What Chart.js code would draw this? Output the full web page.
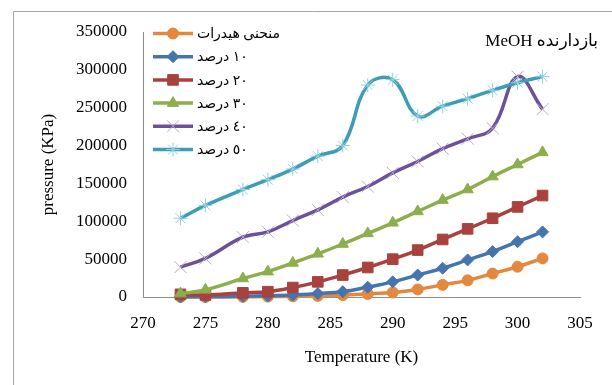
<!DOCTYPE html>
<html><head><meta charset="utf-8">
<script src="https://cdn.jsdelivr.net/npm/chart.js@4.4.0/dist/chart.umd.min.js"></script>
<style>html,body{margin:0;padding:0;background:#fff;}#wrap{width:612px;height:385px;}</style>
</head><body><div id="wrap"><canvas id="c" width="612" height="385"></canvas></div>
<script>
const temperatures = [273, 275, 278, 280, 282, 284, 286, 288, 290, 292, 294, 296, 298, 300, 302];
const hydrateCurve = [0, 0, 200, 500, 900, 1400, 2500, 4000, 6000, 10000, 16000, 22000, 31000, 40000, 51000];
const inhibitor10 = [300, 600, 1000, 1500, 2500, 4500, 7000, 13000, 20000, 29000, 38000, 49000, 60000, 73000, 86000];
const inhibitor20 = [3500, 2600, 5500, 7000, 12500, 20000, 29000, 39000, 50000, 62000, 76000, 90000, 104000, 119000, 134000];
const inhibitor30 = [4500, 9500, 24500, 33500, 45000, 57000, 70000, 84000, 98000, 113000, 128000, 142000, 159000, 175000, 191000];
const inhibitor40 = [39500, 51000, 79000, 86000, 101000, 115000, 132000, 146000, 164000, 179000, 196000, 209000, 223000, 291000, 248000];
const inhibitor50 = [104000, 121000, 142000, 155000, 169000, 186000, 200000, 280000, 287000, 239000, 252000, 262000, 273000, 283000, 291000];
const seriesLabels = ['منحنی هیدرات', '١٠ درصد', '٢٠ درصد', '٣٠ درصد', '٤٠ درصد', '٥٠ درصد'];
const xTickValues = [270, 275, 280, 285, 290, 295, 300, 305];
const yTickValues = [0, 50000, 100000, 150000, 200000, 250000, 300000, 350000];
const chartTitle = 'بازدارنده MeOH';
const xAxisTitle = 'Temperature (K)';
const yAxisTitle = 'pressure (KPa)';

const seriesValues = [hydrateCurve, inhibitor10, inhibitor20, inhibitor30, inhibitor40, inhibitor50];
const styles = [
  {line:'#E3883C', mark:'#E3883C', style:'circle', r:5.5, bw:1},
  {line:'#4575AE', mark:'#4575AE', style:'rectRot', r:6, bw:1},
  {line:'#A8423F', mark:'#A8423F', style:'rect', r:7.5, bw:1},
  {line:'#8DAE4C', mark:'#8DAE4C', style:'triangle', r:6.5, bw:1},
  {line:'#6B5298', mark:'#B7A8D2', style:'crossRot', r:8.5, bw:1},
  {line:'#3D9DB5', mark:'#92D0E2', style:'star', r:7, bw:1}
];

const datasets = seriesValues.map((vals, i) => ({
  label: seriesLabels[i],
  data: temperatures.map((t, j) => ({x: t, y: vals[j]})),
  borderColor: styles[i].line,
  backgroundColor: styles[i].mark,
  pointStyle: styles[i].style,
  pointRadius: styles[i].r,
  pointBorderColor: styles[i].mark,
  pointBackgroundColor: styles[i].mark,
  pointBorderWidth: styles[i].bw,
  borderWidth: 3.5,
  tension: 0.4,
  clip: false,
  order: 5 - i
}));

const decor = {
  id: 'decor',
  beforeDraw(chart) {
    const ctx = chart.ctx;
    ctx.save();
    ctx.strokeStyle = '#A6A6A6';
    ctx.lineWidth = 1;
    ctx.beginPath();
    ctx.moveTo(13.5, 400); ctx.lineTo(13.5, 11.5); ctx.lineTo(620, 11.5);
    ctx.stroke();
    ctx.restore();
  },
  afterDraw(chart) {
    const ctx = chart.ctx;
    ctx.save();
    // title
    ctx.direction = 'rtl';
    ctx.textAlign = 'right';
    ctx.textBaseline = 'middle';
    ctx.fillStyle = '#000';
    ctx.font = '17px "Liberation Serif", "DejaVu Sans", serif';
    ctx.fillText(chartTitle, 598, 42);
    // legend
    const y0 = 33.5, dy = 23.2;
    chart.data.datasets.forEach((ds, i) => {
      const y = y0 + i * dy;
      ctx.strokeStyle = ds.borderColor;
      ctx.lineWidth = 3.5;
      ctx.beginPath();
      ctx.moveTo(153, y); ctx.lineTo(193, y);
      ctx.stroke();
      ctx.fillStyle = ds.pointBackgroundColor;
      ctx.strokeStyle = ds.pointBorderColor;
      ctx.lineWidth = ds.pointBorderWidth;
      Chart.helpers.drawPoint(ctx, {pointStyle: ds.pointStyle, radius: ds.pointRadius, rotation: 0, borderWidth: ds.pointBorderWidth}, 173, y);
      ctx.fillStyle = '#000';
      ctx.textAlign = 'left';
      ctx.direction = 'rtl';
      ctx.font = '14px "Liberation Serif", "DejaVu Sans", serif';
      ctx.fillText(ds.label, 197, y + 1);
    });
    ctx.restore();
  }
};

new Chart(document.getElementById('c'), {
  type: 'line',
  data: {datasets},
  plugins: [decor],
  options: {
    responsive: false,
    devicePixelRatio: 1,
    animation: false,
    layout: {padding: {left: 0, top: 32, right: 32, bottom: 0}},
    plugins: {legend: {display: false}, tooltip: {enabled: false}, title: {display: false}},
    scales: {
      x: {
        type: 'linear', min: 270, max: 305,
        afterBuildTicks: s => { s.ticks = xTickValues.map(v => ({value: v})); },
        afterFit: s => { s.height = 88; },
        grid: {display: false, drawTicks: false},
        border: {display: true, color: '#8C8C8C', width: 1},
        ticks: {color: '#000', font: {family: '"Liberation Serif", serif', size: 17}, padding: 16, maxRotation: 0, autoSkip: false, callback: v => String(v)},
        title: {display: true, text: xAxisTitle, color: '#000', font: {family: '"Liberation Serif", serif', size: 17}, padding: {top: 0, bottom: 17}}
      },
      y: {
        type: 'linear', min: 0, max: 350000,
        afterBuildTicks: s => { s.ticks = yTickValues.map(v => ({value: v})); },
        afterFit: s => { s.width = 143; },
        grid: {display: false, drawTicks: false},
        border: {display: true, color: '#8C8C8C', width: 1},
        ticks: {color: '#000', font: {family: '"Liberation Serif", serif', size: 17}, padding: 16, autoSkip: false, callback: v => String(v)},
        title: {display: true, text: yAxisTitle, color: '#000', font: {family: '"Liberation Serif", serif', size: 17}, padding: {top: 38, bottom: 0}}
      }
    }
  }
});
</script></body></html>
